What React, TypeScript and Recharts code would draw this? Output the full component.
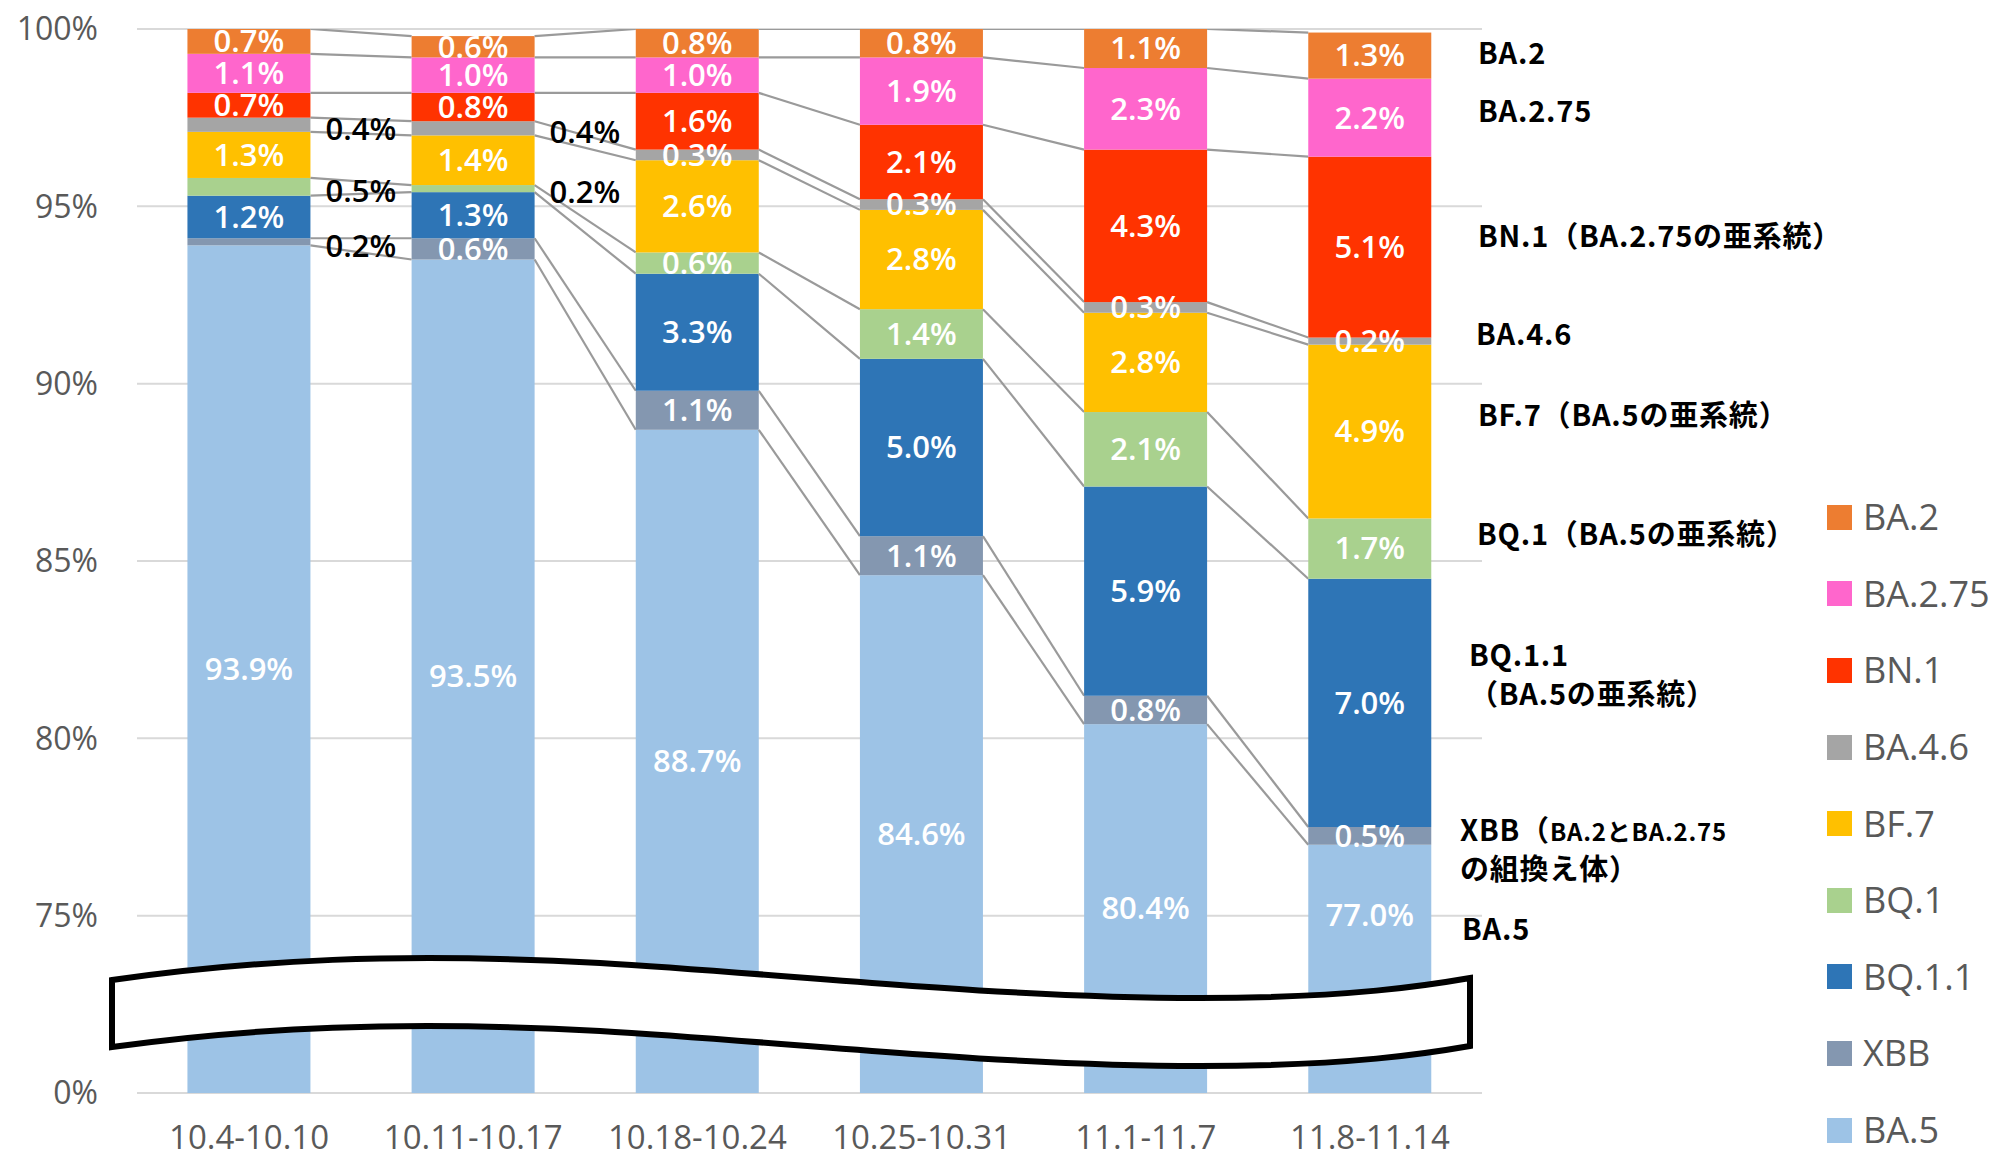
import React from 'react';
import { BarChart, Bar, XAxis, YAxis, CartesianGrid, LabelList, Legend } from 'recharts';

// ---- data ----
const WEEKS = ['10.4-10.10', '10.11-10.17', '10.18-10.24', '10.25-10.31', '11.1-11.7', '11.8-11.14'];
const BA5 = [93.9, 93.5, 88.7, 84.6, 80.4, 77.0];
const XBB = [0.2, 0.6, 1.1, 1.1, 0.8, 0.5];
const BQ11 = [1.2, 1.3, 3.3, 5.0, 5.9, 7.0];
const BQ1 = [0.5, 0.2, 0.6, 1.4, 2.1, 1.7];
const BF7 = [1.3, 1.4, 2.6, 2.8, 2.8, 4.9];
const BA46 = [0.4, 0.4, 0.3, 0.3, 0.3, 0.2];
const BN1 = [0.7, 0.8, 1.6, 2.1, 4.3, 5.1];
const BA275 = [1.1, 1.0, 1.0, 1.9, 2.3, 2.2];
const BA2 = [0.7, 0.6, 0.8, 0.8, 1.1, 1.3];

const Y_DOMAIN: [number, number] = [70, 100];
const Y_TICKS = [70, 75, 80, 85, 90, 95, 100];
const Y_TICK_LABELS = ['0%', '75%', '80%', '85%', '90%', '95%', '100%'];

// bottom -> top stacking order
const SERIES = [
  { key: 'BA5', name: 'BA.5', values: BA5, color: '#9DC3E6' },
  { key: 'XBB', name: 'XBB', values: XBB, color: '#8497B0' },
  { key: 'BQ11', name: 'BQ.1.1', values: BQ11, color: '#2E75B6' },
  { key: 'BQ1', name: 'BQ.1', values: BQ1, color: '#A9D18E' },
  { key: 'BF7', name: 'BF.7', values: BF7, color: '#FFC000' },
  { key: 'BA46', name: 'BA.4.6', values: BA46, color: '#A5A5A5' },
  { key: 'BN1', name: 'BN.1', values: BN1, color: '#FF3300' },
  { key: 'BA275', name: 'BA.2.75', values: BA275, color: '#FF66CC' },
  { key: 'BA2', name: 'BA.2', values: BA2, color: '#ED7D31' },
];

// labels drawn in black beside the bar (week indexes)
const OUTSIDE_LABELS: Record<string, number[]> = { BA46: [0, 1], BQ1: [0, 1], XBB: [0] };

const ANNOTATIONS = [
  { lines: ['BA.2'], x: 1478, y: 54 },
  { lines: ['BA.2.75'], x: 1478, y: 112 },
  { lines: ['BN.1（BA.2.75の亜系統）'], x: 1478, y: 237 },
  { lines: ['BA.4.6'], x: 1476, y: 335 },
  { lines: ['BF.7（BA.5の亜系統）'], x: 1478, y: 416 },
  { lines: ['BQ.1（BA.5の亜系統）'], x: 1477, y: 535 },
  { lines: ['BQ.1.1', '（BA.5の亜系統）'], x: 1469, y: 656 },
  { lines: ['XBB（|BA.2とBA.2.75', 'の組換え体）'], x: 1460, y: 831 },
  { lines: ['BA.5'], x: 1462, y: 930 },
];

const data = WEEKS.map((w, i) => {
  const row: Record<string, any> = { week: w };
  SERIES.forEach((s) => (row[s.key] = s.values[i]));
  return row;
});

const CUM = SERIES.map((_, si) =>
  WEEKS.map((__, i) => SERIES.slice(0, si + 1).reduce((a, s) => a + s.values[i], 0))
);

// ---- layout ----
const W = 2002;
const H = 1158;
const MARGIN = { top: 29, right: 520, bottom: 5, left: 17 };
const Y_AXIS_W = 120;
const X_AXIS_H = 60;
const PLOT_LEFT = MARGIN.left + Y_AXIS_W;
const PLOT_W = W - PLOT_LEFT - MARGIN.right;
const BAND = PLOT_W / WEEKS.length;
const PLOT_BOTTOM = H - MARGIN.bottom - X_AXIS_H;
const PLOT_H = PLOT_BOTTOM - MARGIN.top;
const PPU = PLOT_H / (Y_DOMAIN[1] - Y_DOMAIN[0]);
const BREAK_TOP = 985;
const FONT = "'Open Sans', 'Liberation Sans', sans-serif";
const JP_FONT = "'Noto Sans CJK JP', 'Noto Sans', sans-serif";

const makeShape = (si: number) => (props: any) => {
  const { x, y, width, height, fill, index } = props;
  const cum = CUM[si];
  return (
    <g>
      <rect x={x} y={y} width={width} height={height} fill={fill} />
      {index < WEEKS.length - 1 && (
        <line
          x1={x + width}
          y1={y}
          x2={x + BAND}
          y2={y + (cum[index] - cum[index + 1]) * PPU}
          stroke="#9A9A9A"
          strokeWidth={2.2}
        />
      )}
    </g>
  );
};

const makeLabel = (si: number) => (props: any) => {
  const vb = props.viewBox && props.viewBox.width !== undefined ? props.viewBox : props;
  const { x, y, width, height } = vb;
  const index = props.index;
  const s = SERIES[si];
  const v = s.values[index];
  const text = `${v.toFixed(1)}%`;
  const bottom = Math.min(y + height, PLOT_BOTTOM);
  let cy = (y + bottom) / 2;
  if (cy + 20 > BREAK_TOP) cy = (y + BREAK_TOP) / 2;
  const outside = (OUTSIDE_LABELS[s.key] || []).includes(index);
  if (outside) {
    return (
      <text x={x + width + 15} y={cy + 4} dy="0.35em" textAnchor="start" fill="#000" fontSize={31} fontWeight={600} fontFamily={FONT}>
        {text}
      </text>
    );
  }
  return (
    <text x={x + width / 2} y={cy} dy="0.35em" textAnchor="middle" fill="#fff" fontSize={31} fontWeight={600} fontFamily={FONT}>
      {text}
    </text>
  );
};

const renderLegend = (props: any) => {
  const payload: any[] = (props.payload || []).slice();
  const order = SERIES.map((s) => s.name).reverse();
  payload.sort((a, b) => order.indexOf(a.value) - order.indexOf(b.value));
  return (
    <div style={{ display: 'flex', flexDirection: 'column' }}>
      {payload.map((p) => (
        <div key={p.value} style={{ height: 76.6, display: 'flex', alignItems: 'center' }}>
          <div style={{ width: 25, height: 25, background: p.color, marginRight: 11 }} />
          <span style={{ fontFamily: FONT, fontSize: 36, color: '#595959', lineHeight: 1 }}>{p.value}</span>
        </div>
      ))}
    </div>
  );
};

const Overlay = () => (
  <svg width={W} height={H} style={{ position: 'absolute', left: 0, top: 0, pointerEvents: 'none' }}>
    <path
      d="M112,980 C250,960 400,952 600,963 C800,975 1000,998 1200,998 C1350,998 1430,985 1470,978 L1470,1046 C1430,1053 1350,1066 1200,1066 C1000,1066 800,1043 600,1031 C400,1020 250,1028 112,1047 Z"
      fill="#fff"
      stroke="#000"
      strokeWidth={6}
      strokeLinejoin="miter"
    />
    {ANNOTATIONS.map((a, ai) => (
      <text key={ai} fontFamily={JP_FONT} fontWeight={700} fontSize={29} letterSpacing={0.8} fill="#000">
        {a.lines.map((ln, li) => {
          const parts = ln.split('|');
          return (
            <tspan key={li} x={a.x} y={a.y + li * 39} dy="0.35em">
              {parts.length > 1 ? (
                <>
                  <tspan>{parts[0]}</tspan>
                  <tspan fontSize={24}>{parts[1]}</tspan>
                </>
              ) : (
                ln
              )}
            </tspan>
          );
        })}
      </text>
    ))}
  </svg>
);

export default function App() {
  return (
    <div style={{ position: 'absolute', left: 0, top: 0, width: W, height: H, background: '#fff', fontFamily: FONT }}>
      <BarChart width={W} height={H} data={data} margin={MARGIN} barCategoryGap="22.5%">
        <CartesianGrid vertical={false} stroke="#D9D9D9" strokeWidth={2} />
        <XAxis
          dataKey="week"
          height={X_AXIS_H}
          axisLine={false}
          tickLine={false}
          tickSize={0}
          tickMargin={33}
          interval={0}
          tick={{ fill: '#595959', fontSize: 33, fontFamily: FONT }}
        />
        <YAxis
          width={Y_AXIS_W}
          domain={Y_DOMAIN}
          allowDataOverflow
          ticks={Y_TICKS}
          tickFormatter={(v: number) => Y_TICK_LABELS[Y_TICKS.indexOf(v)]}
          axisLine={false}
          tickLine={false}
          tickSize={0}
          tickMargin={39}
          tick={{ fill: '#595959', fontSize: 32, fontFamily: FONT }}
        />
        <Legend
          layout="vertical"
          align="center"
          verticalAlign="middle"
          content={renderLegend}
          wrapperStyle={{ left: 1827, top: 479, width: 175 }}
        />
        {SERIES.map((s, si) => (
          <Bar
            key={s.key}
            dataKey={s.key}
            name={s.name}
            stackId="a"
            fill={s.color}
            isAnimationActive={false}
            shape={makeShape(si)}
          >
            <LabelList dataKey={s.key} content={makeLabel(si)} />
          </Bar>
        ))}
      </BarChart>
      <Overlay />
    </div>
  );
}
